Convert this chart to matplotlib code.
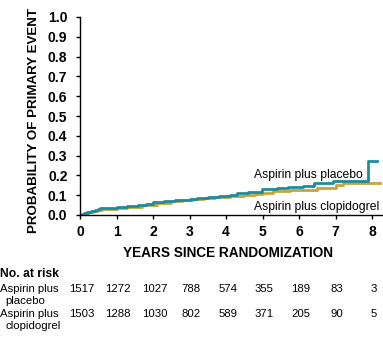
import matplotlib
matplotlib.use("Agg")
import matplotlib.pyplot as plt
import matplotlib.transforms as mtransforms

plt.rcParams['font.family'] = ['Liberation Sans', 'DejaVu Sans']

# Kaplan-Meier style step data (years, cumulative probability)
placebo_years = [0, 0.05, 0.12, 0.2, 0.3, 0.4, 0.5, 0.55, 1.0, 1.3, 1.6, 1.8, 2.0, 2.3,
                 2.6, 3.0, 3.2, 3.5, 3.8, 4.1, 4.3, 4.6, 4.98, 5.4, 5.7, 6.1, 6.4,
                 6.93, 7.9, 8.13]
placebo_prob = [0, 0.005, 0.01, 0.015, 0.02, 0.025, 0.03, 0.034, 0.04, 0.045, 0.05,
                0.055, 0.065, 0.07, 0.075, 0.08, 0.085, 0.09, 0.095, 0.1, 0.11, 0.115,
                0.13, 0.135, 0.14, 0.148, 0.16, 0.172, 0.273, 0.273]

clopi_years = [0, 0.08, 0.16, 0.26, 0.36, 0.48, 0.6, 1.0, 1.3, 1.7, 2.1, 2.5, 2.8,
               3.1, 3.4, 3.7, 4.1, 4.5, 4.8, 5.0, 5.3, 5.75, 6.5, 7.0, 7.2, 8.22]
clopi_prob = [0, 0.005, 0.01, 0.015, 0.02, 0.025, 0.03, 0.035, 0.04, 0.05, 0.06,
              0.07, 0.075, 0.08, 0.085, 0.09, 0.095, 0.1, 0.105, 0.11, 0.12, 0.126,
              0.138, 0.152, 0.163, 0.163]

years_ticks = [0, 1, 2, 3, 4, 5, 6, 7, 8]
at_risk_placebo = [1517, 1272, 1027, 788, 574, 355, 189, 83, 3]
at_risk_clopi = [1503, 1288, 1030, 802, 589, 371, 205, 90, 5]

teal = '#1f8c9e'
gold = '#c9a23a'

W, H = 383, 337
fig = plt.figure(figsize=(W / 100, H / 100), dpi=100)

def fy(py):
    return 1 - py / H

ax = fig.add_axes([80 / W, fy(215), (W - 80) / W, (215 - 17) / H])

ax.step(clopi_years, clopi_prob, where='post', color=gold, linewidth=2.0)
ax.step(placebo_years, placebo_prob, where='post', color=teal, linewidth=2.0)

ax.set_xlim(0, 8.3)
ax.set_ylim(0, 1.0)
ax.set_xticks(years_ticks)
ax.set_yticks([i / 10 for i in range(11)])
ax.set_yticklabels([f'{i / 10:.1f}' for i in range(11)])
ax.spines['top'].set_visible(False)
ax.spines['right'].set_visible(False)
for s in ('left', 'bottom'):
    ax.spines[s].set_linewidth(1.0)
ax.tick_params(axis='both', direction='out', length=3, width=1.0, labelsize=10)
ax.tick_params(axis='x', pad=4)
ax.tick_params(axis='y', pad=6)
for lab in ax.get_xticklabels() + ax.get_yticklabels():
    lab.set_fontweight('bold')

ax.text(7.75, 0.2, 'Aspirin plus placebo', ha='right', va='center', fontsize=8.7)
ax.text(8.2, 0.04, 'Aspirin plus clopidogrel', ha='right', va='center', fontsize=8.7)

fig.text(34 / W, fy(233), 'PROBABILITY OF PRIMARY EVENT', rotation=90,
         ha='center', va='bottom', fontsize=9.6, fontweight='bold')
fig.text(228 / W, fy(253), 'YEARS SINCE RANDOMIZATION', ha='center', va='center',
         fontsize=9.8, fontweight='bold')

# Number at risk table
fig.text(0, fy(274), 'No. at risk', ha='left', va='center', fontsize=8.7, fontweight='bold')
fig.text(0, fy(289), 'Aspirin plus', ha='left', va='center', fontsize=8.2)
fig.text(5 / W, fy(301), 'placebo', ha='left', va='center', fontsize=8.2)
fig.text(0, fy(314), 'Aspirin plus', ha='left', va='center', fontsize=8.2)
fig.text(5 / W, fy(326), 'clopidogrel', ha='left', va='center', fontsize=8.2)

trans = mtransforms.blended_transform_factory(ax.transData, fig.transFigure)
for x, a, b in zip(years_ticks, at_risk_placebo, at_risk_clopi):
    ax.text(x + 0.05, fy(289), str(a), transform=trans, ha='center', va='center',
            fontsize=8.2, clip_on=False)
    ax.text(x + 0.05, fy(314), str(b), transform=trans, ha='center', va='center',
            fontsize=8.2, clip_on=False)

fig.savefig('out.png', dpi=100)
